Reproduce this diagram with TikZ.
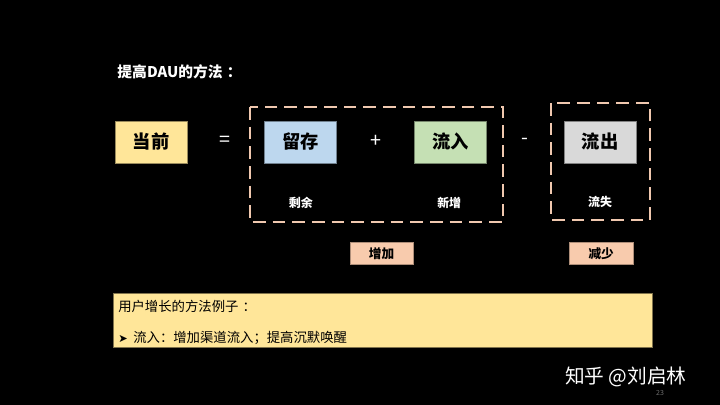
\documentclass[tikz,border=0pt]{standalone}
\usepackage{fontspec}
\setmainfont{Noto Sans CJK SC}
\usepackage{tikz}
\definecolor{termyellow}{RGB}{255, 230, 153}
\definecolor{termblue}{RGB}{189, 215, 238}
\definecolor{termgreen}{RGB}{197, 224, 180}
\definecolor{termgray}{RGB}{217, 217, 217}
\definecolor{peach}{RGB}{248, 203, 173}
\definecolor{dashpeach}{RGB}{240, 200, 175}
\definecolor{pagegray}{RGB}{110, 110, 110}
\usetikzlibrary{positioning, calc}

\begin{document}
\begin{tikzpicture}[
    termbox/.style={draw=termyellow!60!black, line width=0.4pt, minimum width=1.8cm, minimum height=1.05cm,
                    font=\fontsize{13}{15}\selectfont\bfseries, text=black},
    groupbox/.style={draw=dashpeach, line width=1.6pt, dash pattern=on 9pt off 5pt},
    tagbox/.style={draw=peach!70!black, line width=0.4pt, fill=peach, minimum width=1.58cm, minimum height=0.55cm,
                   font=\fontsize{9}{11}\selectfont\bfseries, text=black},
    sublabel/.style={font=\fontsize{8.5}{10}\selectfont\bfseries, text=white},
    oplabel/.style={font=\fontsize{14}{16}\selectfont, text=white}
]
    % Background slide
    \fill[black] (0,0) rectangle (18,10.125);
    \useasboundingbox (0,0) rectangle (18,10.125);

    % Title
    \node[anchor=west, font=\fontsize{10.5}{12}\selectfont\bfseries, text=white, inner sep=0pt] (title) at (2.93,8.32) {提高DAU的方法\hspace{3pt}：};

    % Dashed groups
    \draw[groupbox] (6.25,7.45) rectangle (12.57,4.57);
    \draw[groupbox] (13.78,7.55) rectangle (16.25,4.62);

    % Terms of the equation
    \node[termbox, fill=termyellow] (now) at (3.78,6.58) {当前};
    \node[oplabel] (eq) at (5.63,6.58) {=};
    \node[termbox, fill=termblue, draw=termblue!60!black] (keep) at (7.51,6.58) {留存};
    \node[oplabel] (plus) at (9.40,6.58) {+};
    \node[termbox, fill=termgreen, draw=termgreen!60!black] (inflow) at (11.26,6.58) {流入};
    \node[oplabel] (minus) at (13.13,6.58) {-};
    \node[termbox, fill=termgray, draw=termgray!60!black] (outflow) at (15.0,6.58) {流出};

    % Labels below the terms
    \node[sublabel] (rest) at (7.52,5.05) {剩余};
    \node[sublabel] (new) at (11.23,5.05) {新增};
    \node[sublabel] (lost) at (15.0,5.08) {流失};

    % Tags below the groups
    \node[tagbox] (up) at (9.54,3.79) {增加};
    \node[tagbox] (down) at (15.03,3.79) {减少};

    % Example box
    \node[draw=termyellow!50!black, fill=termyellow, line width=0.4pt, minimum width=13.48cm, minimum height=1.35cm] (example) at (9.57,2.125) {};
    \node[anchor=west, font=\fontsize{9.5}{11}\selectfont, text=black, inner sep=0pt] (exline1) at (2.95,2.47) {用户增长的方法例子\hspace{3pt}：};
    \node[anchor=west, font=\fontsize{9.5}{11}\selectfont, text=black, inner sep=0pt] (exline2) at (2.95,1.67) {{\fontspec{DejaVu Sans}\fontsize{8}{10}\selectfont ➤}\hspace{4pt}流入：增加渠道流入；提高沉默唤醒};

    % Watermark and page number
    \node[anchor=west, font=\fontsize{14}{16}\selectfont, text=white, inner sep=0pt] (mark) at (14.12,0.7) {知乎 @刘启林};
    \node[font=\fontsize{5}{6}\selectfont, text=pagegray] (page) at (16.5,0.3) {23};
\end{tikzpicture}
\end{document}
